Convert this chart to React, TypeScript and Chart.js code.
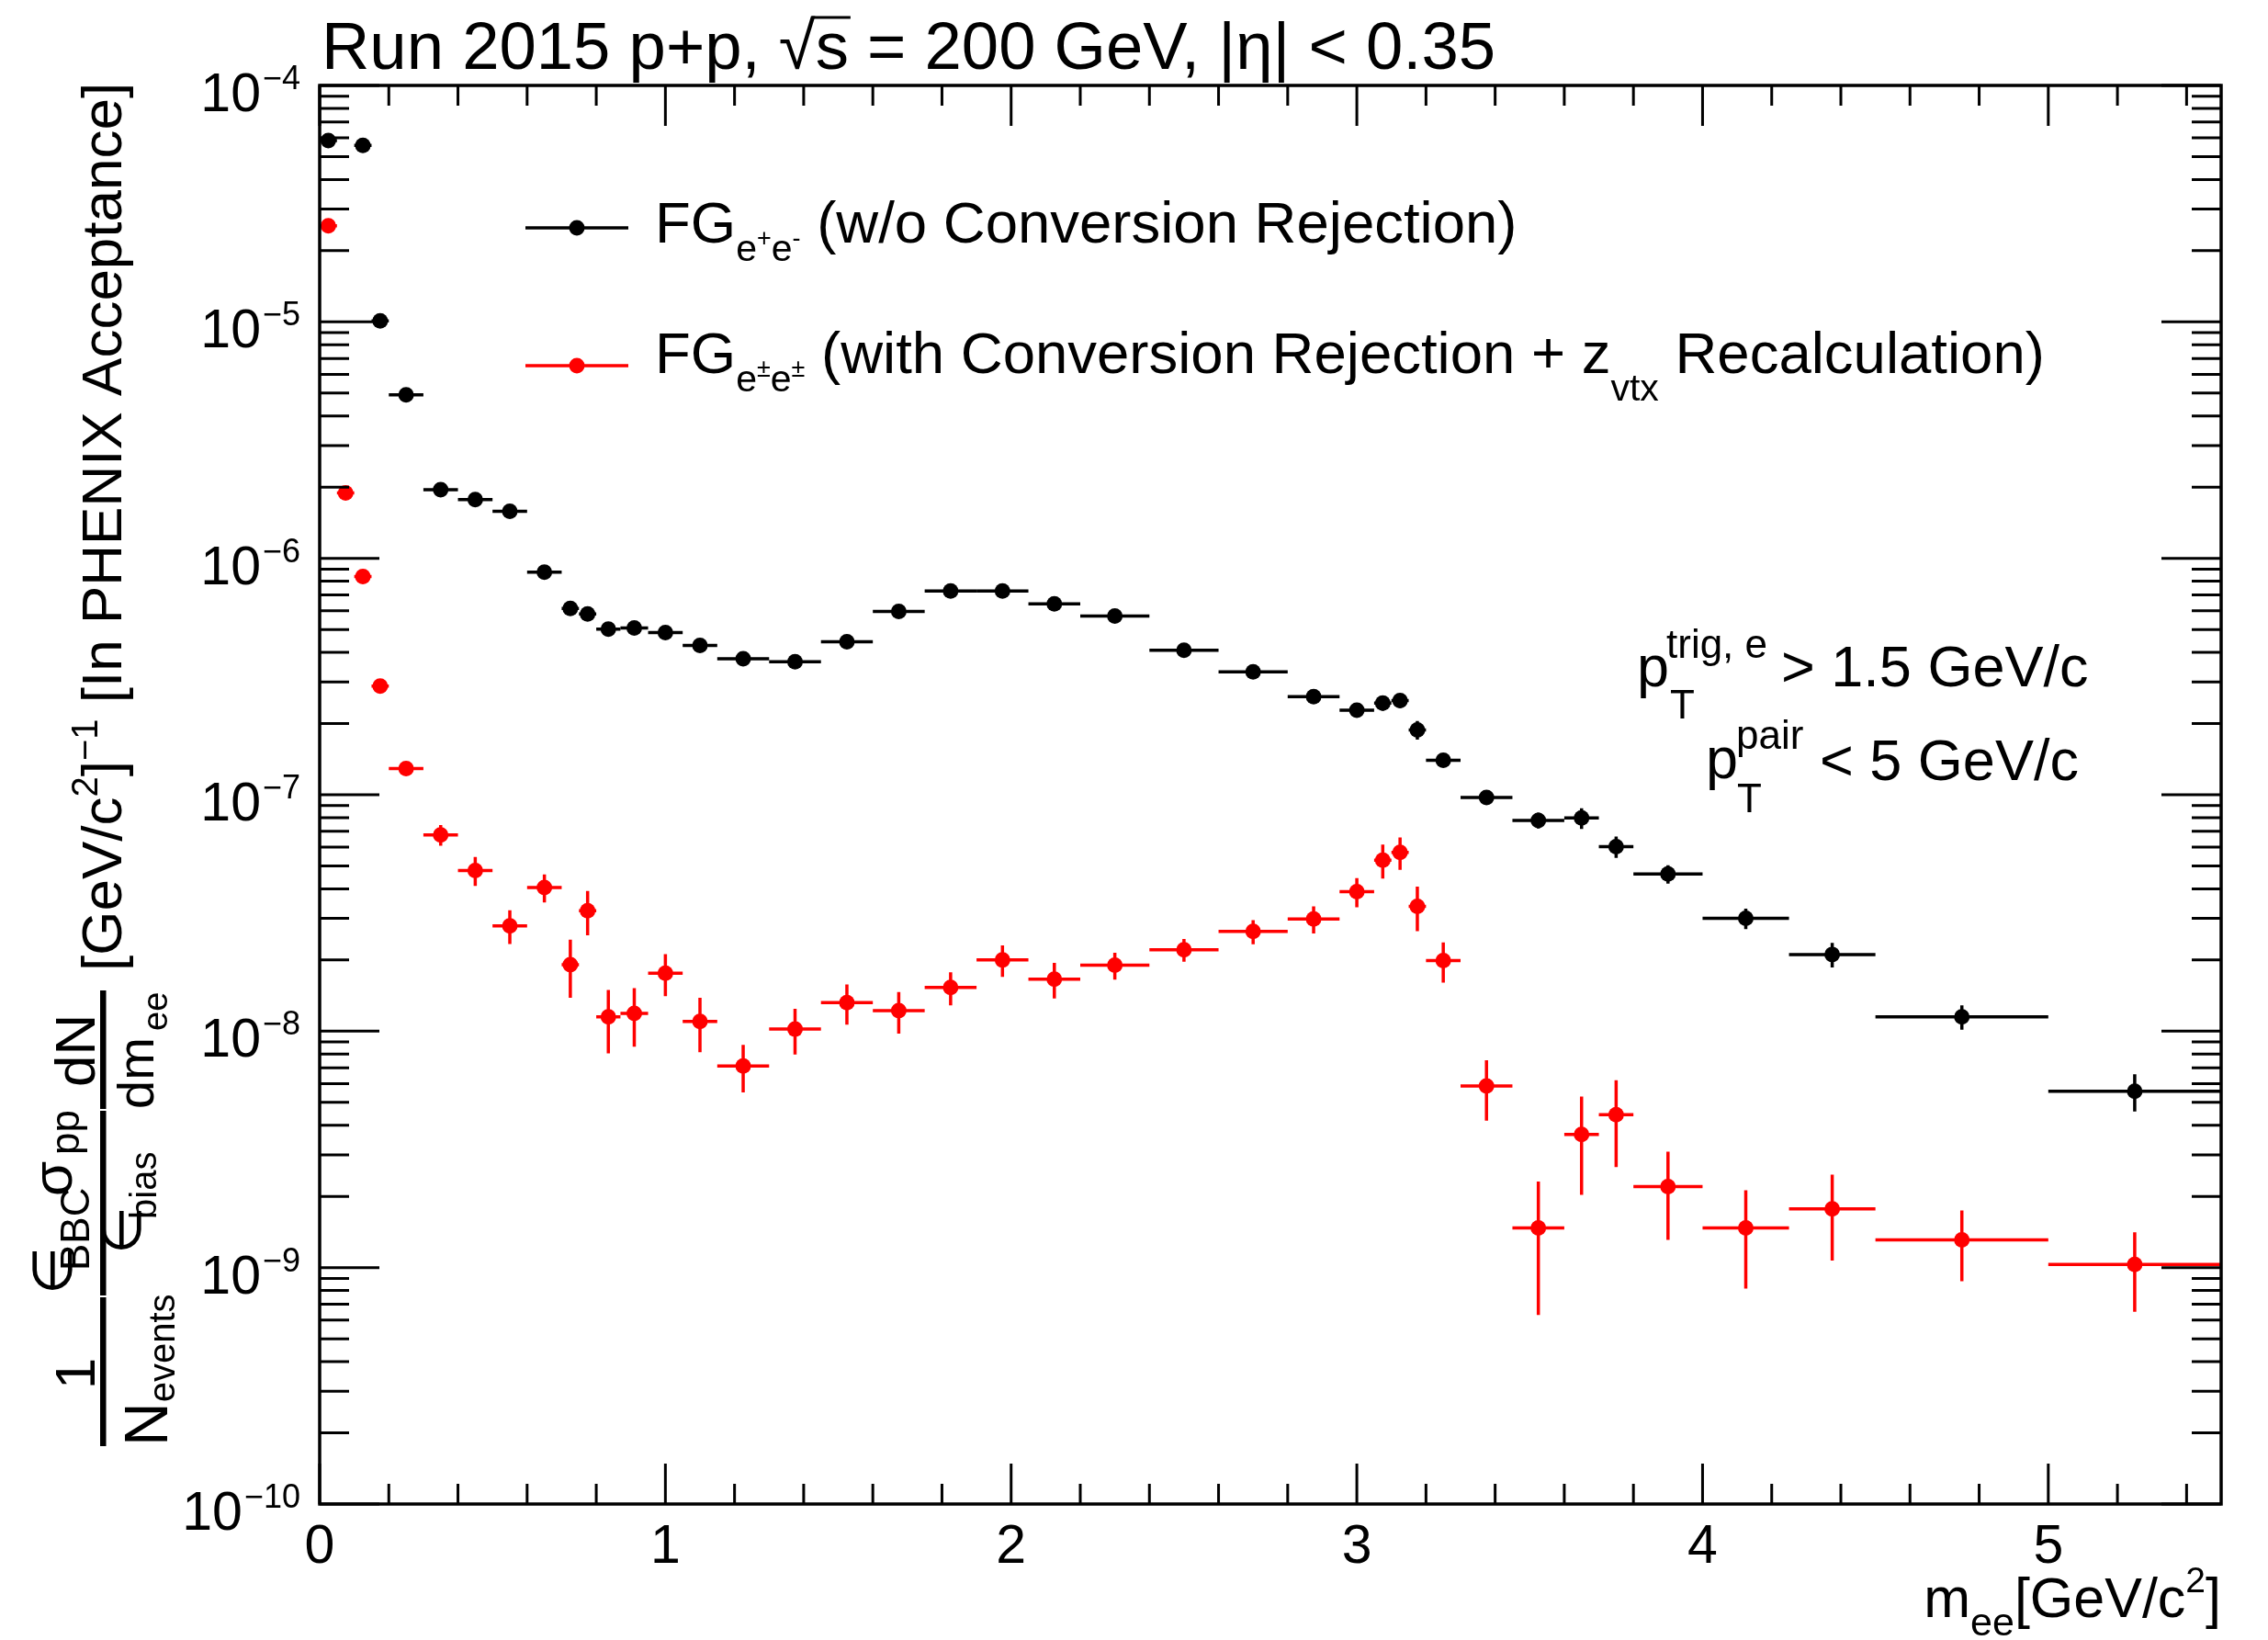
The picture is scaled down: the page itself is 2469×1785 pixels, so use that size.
import React, { useEffect, useRef } from 'react';
import { Chart, registerables } from 'chart.js';

Chart.register(...registerables);

// ---------------- data ----------------
const massBins = [0.025, 0.075, 0.125, 0.175, 0.25, 0.35, 0.45, 0.55, 0.65, 0.725, 0.775, 0.835, 0.91, 1.0, 1.1, 1.225, 1.375, 1.525, 1.675, 1.825, 1.975, 2.125, 2.3, 2.5, 2.7, 2.875, 3.0, 3.075, 3.125, 3.175, 3.25, 3.375, 3.525, 3.65, 3.75, 3.9, 4.125, 4.375, 4.75, 5.25];
const binHalfWidths = [0.025, 0.025, 0.025, 0.025, 0.05, 0.05, 0.05, 0.05, 0.05, 0.025, 0.025, 0.035, 0.04, 0.05, 0.05, 0.075, 0.075, 0.075, 0.075, 0.075, 0.075, 0.075, 0.1, 0.1, 0.1, 0.075, 0.05, 0.025, 0.025, 0.025, 0.05, 0.075, 0.075, 0.05, 0.05, 0.1, 0.125, 0.125, 0.25, 0.25];

// FG e+e- (w/o conversion rejection)
const fgNoRejection = [5.84e-5, null, 5.58e-5, 1.01e-5, 4.91e-6, 1.95e-6, 1.77e-6, 1.58e-6, 8.73e-7, 6.14e-7, 5.82e-7, 5.02e-7, 5.07e-7, 4.85e-7, 4.28e-7, 3.76e-7, 3.65e-7, 4.44e-7, 5.96e-7, 7.28e-7, 7.28e-7, 6.42e-7, 5.70e-7, 4.08e-7, 3.31e-7, 2.60e-7, 2.28e-7, 2.44e-7, 2.50e-7, 1.88e-7, 1.40e-7, 9.73e-8, 7.79e-8, 7.97e-8, 6.03e-8, 4.62e-8, 3.00e-8, 2.11e-8, 1.15e-8, 5.57e-9];
const fgNoRejectionErr = [6e-7, null, 6e-7, 1.5e-7, 8e-8, 3.5e-8, 3.2e-8, 3e-8, 1.8e-8, 1.4e-8, 1.4e-8, 1.1e-8, 1.1e-8, 1e-8, 9e-9, 8e-9, 8e-9, 9e-9, 1.2e-8, 1.4e-8, 1.4e-8, 1.3e-8, 1.1e-8, 9e-9, 8e-9, 7e-9, 7e-9, 1.7e-8, 1.7e-8, 1.7e-8, 6e-9, 5e-9, 6e-9, 8e-9, 6.3e-9, 4.1e-9, 3.0e-9, 2.5e-9, 1.35e-9, 1.0e-9];

// FG e±e± (with conversion rejection + z_vtx recalculation)
const fgRejection = [2.55e-5, 1.89e-6, 8.37e-7, 2.88e-7, 1.29e-7, 6.76e-8, 4.78e-8, 2.79e-8, 4.05e-8, 1.91e-8, 3.23e-8, 1.15e-8, 1.19e-8, 1.76e-8, 1.10e-8, 7.13e-9, 1.02e-8, 1.32e-8, 1.22e-8, 1.53e-8, 2.00e-8, 1.66e-8, 1.90e-8, 2.21e-8, 2.64e-8, 2.98e-8, 3.89e-8, 5.29e-8, 5.70e-8, 3.37e-8, 1.99e-8, 5.86e-9, 1.47e-9, 3.66e-9, 4.43e-9, 2.20e-9, 1.47e-9, 1.77e-9, 1.31e-9, 1.03e-9];
const fgRejectionErr = [5e-7, 4e-8, 2.5e-8, 1e-8, 5e-9, 6.8e-9, 6.7e-9, 4.55e-9, 5.5e-9, 5.25e-9, 6.85e-9, 3.45e-9, 3.3e-9, 3.55e-9, 2.85e-9, 1.62e-9, 2.24e-9, 2.55e-9, 2.44e-9, 2.45e-9, 3.05e-9, 2.86e-9, 2.47e-9, 2.43e-9, 3.09e-9, 3.88e-9, 5.45e-9, 8.7e-9, 8.9e-9, 7.2e-9, 3.85e-9, 1.68e-9, 8.4e-10, 1.63e-9, 1.77e-9, 8.9e-10, 6.55e-10, 7.0e-10, 4.35e-10, 3.8e-10];

const xTickLabels = ['0', '1', '2', '3', '4', '5'];
const yDecades = [-10, -9, -8, -7, -6, -5, -4];

const FONT = "'Liberation Sans', Arimo, Arial, Helvetica, 'DejaVu Sans', sans-serif";

const makePoints = (vals: (number | null)[], errs: (number | null)[]) =>
  massBins
    .map((x, i) => ({ x, y: vals[i] as number, xerr: binHalfWidths[i], yerr: (errs[i] ?? 0) as number }))
    .filter((p) => p.y != null);

type Part = { t: string; s: number; dy?: number; x?: number };

function drawRich(ctx: CanvasRenderingContext2D, x: number, y: number, parts: Part[]) {
  let cx = x;
  for (const p of parts) {
    ctx.font = `${p.s}px ${FONT}`;
    if (p.x !== undefined) cx = p.x;
    ctx.fillText(p.t, cx, y + (p.dy || 0));
    cx += ctx.measureText(p.t).width;
  }
  return cx;
}

const rootPlugin = {
  id: 'rootStyle',
  beforeDatasetsDraw(chart: any) {
    const { ctx, chartArea, scales } = chart;
    const xs = scales.x;
    const ys = scales.y;
    ctx.save();
    ctx.beginPath();
    ctx.rect(chartArea.left, chartArea.top, chartArea.right - chartArea.left, chartArea.bottom - chartArea.top);
    ctx.clip();
    ctx.lineCap = 'butt';
    chart.data.datasets.forEach((ds: any) => {
      ctx.strokeStyle = ds.backgroundColor;
      ctx.lineWidth = 3.5;
      ds.data.forEach((p: any) => {
        const px = xs.getPixelForValue(p.x);
        const py = ys.getPixelForValue(p.y);
        const x0 = xs.getPixelForValue(p.x - p.xerr);
        const x1 = xs.getPixelForValue(p.x + p.xerr);
        const yHi = ys.getPixelForValue(p.y + p.yerr);
        const yLo = ys.getPixelForValue(Math.max(p.y - p.yerr, 1e-13));
        ctx.beginPath();
        ctx.moveTo(x0, py);
        ctx.lineTo(x1, py);
        ctx.moveTo(px, yHi);
        ctx.lineTo(px, yLo);
        ctx.stroke();
      });
    });
    ctx.restore();
  },
  afterDraw(chart: any) {
    const { ctx, chartArea } = chart;
    const xs = chart.scales.x;
    const ys = chart.scales.y;
    const { left, right, top, bottom } = chartArea;
    ctx.save();
    ctx.fillStyle = '#000';
    ctx.strokeStyle = '#000';

    // ticks
    ctx.lineWidth = 3;
    ctx.beginPath();
    for (let i = 0; i <= 27; i++) {
      const v = i * 0.2;
      const px = xs.getPixelForValue(v);
      const len = i % 5 === 0 ? 44 : 22;
      ctx.moveTo(px, bottom);
      ctx.lineTo(px, bottom - len);
      ctx.moveTo(px, top);
      ctx.lineTo(px, top + len);
    }
    for (const e of yDecades) {
      for (let k = 1; k <= 9; k++) {
        if (e === -4 && k > 1) break;
        const py = ys.getPixelForValue(k * Math.pow(10, e));
        const len = k === 1 ? 65 : 32;
        ctx.moveTo(left, py);
        ctx.lineTo(left + len, py);
        ctx.moveTo(right, py);
        ctx.lineTo(right - len, py);
      }
    }
    ctx.stroke();

    // frame
    ctx.lineWidth = 3.5;
    ctx.strokeRect(left, top, right - left, bottom - top);

    // y tick labels
    ctx.textBaseline = 'alphabetic';
    ctx.textAlign = 'left';
    for (const e of yDecades) {
      const py = ys.getPixelForValue(Math.pow(10, e));
      const expTxt = '\u2212' + String(-e);
      ctx.font = `36px ${FONT}`;
      const wExp = ctx.measureText(expTxt).width;
      ctx.font = `59px ${FONT}`;
      const w10 = ctx.measureText('10').width;
      const x0 = 327 - wExp - w10 - 2;
      ctx.fillText('10', x0, py + 28);
      ctx.font = `36px ${FONT}`;
      ctx.fillText(expTxt, x0 + w10 + 2, py + 4);
    }

    // x tick labels
    ctx.textAlign = 'center';
    ctx.font = `59px ${FONT}`;
    for (const lab of xTickLabels) {
      ctx.fillText(lab, xs.getPixelForValue(Number(lab)), 1701);
    }
    ctx.textAlign = 'left';

    // x title (right-aligned to frame)
    const xParts: Part[] = [
      { t: 'm', s: 61 },
      { t: 'ee', s: 43, dy: 20 },
      { t: '[GeV/c', s: 61 },
      { t: '2', s: 39, dy: -27 },
      { t: ']', s: 61 },
    ];
    let wx = 0;
    for (const p of xParts) {
      ctx.font = `${p.s}px ${FONT}`;
      wx += ctx.measureText(p.t).width;
    }
    drawRich(ctx, right - wx, 1760, xParts);

    // title
    const tEnd1 = drawRich(ctx, 350, 75, [{ t: 'Run 2015 p+p, \u221A', s: 72.5 }]);
    ctx.font = `72.5px ${FONT}`;
    const sW = ctx.measureText('s').width;
    ctx.fillText('s', tEnd1, 75);
    ctx.lineWidth = 3;
    ctx.beginPath();
    ctx.moveTo(tEnd1 - 4, 75 - 56);
    ctx.lineTo(tEnd1 + sW + 2, 75 - 56);
    ctx.stroke();
    drawRich(ctx, tEnd1 + sW, 75, [{ t: ' = 200 GeV, |\u03B7| < 0.35', s: 72.5 }]);

    // legend
    const legend = [
      { color: '#000000', y: 248 },
      { color: '#ff0000', y: 398 },
    ];
    for (const l of legend) {
      ctx.strokeStyle = l.color;
      ctx.fillStyle = l.color;
      ctx.lineWidth = 3.5;
      ctx.beginPath();
      ctx.moveTo(572, l.y);
      ctx.lineTo(684, l.y);
      ctx.stroke();
      ctx.beginPath();
      ctx.arc(628, l.y, 8.5, 0, Math.PI * 2);
      ctx.fill();
    }
    ctx.fillStyle = '#000';
    drawRich(ctx, 713, 264, [
      { t: 'FG', s: 63.5 },
      { t: 'e', s: 41, dy: 20 },
      { t: '+', s: 27, dy: 4 },
      { t: 'e', s: 41, dy: 20 },
      { t: '-', s: 27, dy: 4 },
      { t: ' (w/o Conversion Rejection)', s: 63.5 },
    ]);
    drawRich(ctx, 713, 406, [
      { t: 'FG', s: 63.5 },
      { t: 'e', s: 41, dy: 20 },
      { t: '\u00B1', s: 27, dy: 4 },
      { t: 'e', s: 41, dy: 20 },
      { t: '\u00B1', s: 27, dy: 4 },
      { t: ' (with Conversion Rejection + z', s: 63.5 },
      { t: 'vtx', s: 41, dy: 30 },
      { t: ' Recalculation)', s: 63.5 },
    ]);

    // pT annotations
    drawRich(ctx, 1782, 747, [{ t: 'p', s: 63 }]);
    drawRich(ctx, 1818, 782, [{ t: 'T', s: 44 }]);
    drawRich(ctx, 1814, 716, [{ t: 'trig, e', s: 44 }]);
    drawRich(ctx, 1939, 747, [{ t: '> 1.5 GeV/c', s: 63 }]);
    drawRich(ctx, 1857, 847, [{ t: 'p', s: 63 }]);
    drawRich(ctx, 1891, 884, [{ t: 'T', s: 44 }]);
    drawRich(ctx, 1890, 815, [{ t: 'pair', s: 44 }]);
    drawRich(ctx, 1981, 849, [{ t: '< 5 GeV/c', s: 63 }]);

    // y title (rotated)
    ctx.save();
    ctx.rotate(-Math.PI / 2);
    const put = (yStart: number, xBase: number, t: string, s: number) => {
      ctx.font = `${s}px ${FONT}`;
      ctx.fillText(t, -yStart, xBase);
      return yStart - ctx.measureText(t).width;
    };
    ctx.font = `62px ${FONT}`;
    const w1 = ctx.measureText('1').width;
    put(1495 + w1 / 2, 103, '1', 62);
    const nEnd = put(1574, 182, 'N', 66);
    put(nEnd, 190, 'events', 40);
    put(1409, 78, '\u2208', 60);
    put(1383, 97, 'BBC', 44);
    put(1302, 78, '\u03C3', 62);
    put(1257, 86, 'pp', 44);
    put(1365, 153, '\u2208', 60);
    put(1327, 170, 'bias', 40);
    put(1183, 103, 'dN', 62);
    const dmEnd = put(1207, 167, 'dm', 56);
    put(Math.min(dmEnd, 1122), 182, 'ee', 38);
    let yy = put(1057, 132, '[GeV/c', 62);
    yy = put(yy, 106, '2', 40);
    yy = put(yy, 132, ']', 62);
    yy = put(yy, 106, '\u22121', 40);
    put(yy, 132, ' [In PHENIX Acceptance]', 62);
    ctx.restore();

    // fraction bars
    ctx.fillRect(109, 1078, 6.5, 129);
    ctx.fillRect(109, 1209, 6.5, 201);
    ctx.fillRect(109, 1412, 6.5, 162);

    ctx.restore();
  },
};

export default function App() {
  const ref = useRef<HTMLCanvasElement>(null);
  useEffect(() => {
    const chart = new Chart(ref.current as HTMLCanvasElement, {
      type: 'scatter',
      data: {
        datasets: [
          {
            label: 'FG e+e- (w/o Conversion Rejection)',
            data: makePoints(fgNoRejection, fgNoRejectionErr) as any,
            backgroundColor: '#000000',
            borderColor: '#000000',
            pointRadius: 8.5,
            pointHoverRadius: 8.5,
            pointBorderWidth: 0,
            showLine: false,
          },
          {
            label: 'FG e±e± (with Conversion Rejection + z_vtx Recalculation)',
            data: makePoints(fgRejection, fgRejectionErr) as any,
            backgroundColor: '#ff0000',
            borderColor: '#ff0000',
            pointRadius: 8.5,
            pointHoverRadius: 8.5,
            pointBorderWidth: 0,
            showLine: false,
          },
        ],
      },
      options: {
        responsive: false,
        animation: false,
        devicePixelRatio: 1,
        events: [],
        layout: { padding: { left: 348, top: 93, right: 51, bottom: 148 } },
        scales: {
          x: { type: 'linear', min: 0, max: 5.5, display: false },
          y: { type: 'logarithmic', min: 1e-10, max: 1e-4, display: false },
        },
        plugins: { legend: { display: false }, tooltip: { enabled: false } },
      },
      plugins: [rootPlugin as any],
    });
    return () => chart.destroy();
  }, []);
  return (
    <div style={{ position: 'fixed', left: 0, top: 0, width: 2469, height: 1785, background: '#ffffff' }}>
      <canvas ref={ref} width={2469} height={1785} style={{ width: 2469, height: 1785, display: 'block' }} />
    </div>
  );
}
